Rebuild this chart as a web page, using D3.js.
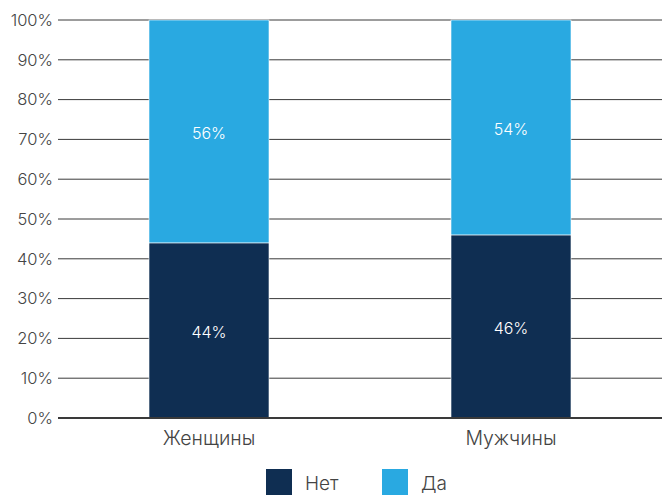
<!DOCTYPE html>
<html><head><meta charset="utf-8">
<script src="https://cdn.jsdelivr.net/npm/d3@7"></script>
<style>
  body { margin:0; background:#fff; }
  text { font-family: Inter, "Noto Sans", sans-serif; font-weight: 300; }
</style>
</head><body>
<svg id="svg" width="662" height="495"></svg>
<script>
const categories = ['Женщины', 'Мужчины'];
const net = [44, 46];
const da = [56, 54];
const ticks = [0, 10, 20, 30, 40, 50, 60, 70, 80, 90, 100];
const legendItems = [['Нет', '#0f2e52'], ['Да', '#29a9e1']];

const svg = d3.select('#svg');
const m = { top:20, right:0, bottom:77, left:58 };
const width = 662, height = 495;

const x = d3.scaleBand().domain(categories).range([m.left, width - m.right]).padding(0);
const y = d3.scaleLinear().domain([0, 100]).range([height - m.bottom, m.top]);
const bw = 120;

// gridlines
svg.append('g').selectAll('line').data(ticks).join('line')
  .attr('x1', m.left).attr('x2', width - m.right)
  .attr('y1', d => y(d)).attr('y2', d => y(d))
  .attr('stroke', '#3a3a3a').attr('stroke-width', d => d === 0 ? 2 : 1);

svg.append('g').selectAll('text').data(ticks).join('text')
  .attr('x', m.left - 5).attr('y', d => y(d)).attr('dy', '0.35em')
  .attr('text-anchor', 'end').attr('font-size', 16.5).attr('fill', '#444')
  .text(d => d + '%');

const stacks = categories.map((c, i) => [
  { c, y0: 0, y1: net[i], color: legendItems[0][1] },
  { c, y0: net[i], y1: net[i] + da[i], color: legendItems[1][1] }
]).flat();

const g = svg.append('g');
g.selectAll('rect').data(stacks).join('rect')
  .attr('x', d => x(d.c) + x.bandwidth() / 2 - bw / 2).attr('width', bw)
  .attr('y', d => y(d.y1)).attr('height', d => y(d.y0) - y(d.y1))
  .attr('fill', d => d.color).attr('stroke', '#fff').attr('stroke-width', 0.6);

g.selectAll('text').data(stacks).join('text')
  .attr('x', d => x(d.c) + x.bandwidth() / 2)
  .attr('y', d => (y(d.y0) + y(d.y1)) / 2 + 2).attr('dy', '0.35em')
  .attr('text-anchor', 'middle').attr('font-size', 16).attr('fill', '#fff')
  .text(d => (d.y1 - d.y0) + '%');

// redraw the baseline over bars
svg.append('line').attr('x1', m.left).attr('x2', width - m.right)
  .attr('y1', y(0)).attr('y2', y(0)).attr('stroke', '#3a3a3a').attr('stroke-width', 2);

svg.append('g').selectAll('text').data(categories).join('text')
  .attr('x', d => x(d) + x.bandwidth() / 2).attr('y', y(0) + 27)
  .attr('text-anchor', 'middle').attr('font-size', 19.5).attr('fill', '#444')
  .text(d => d);

const lg = svg.append('g').selectAll('g').data(legendItems).join('g')
  .attr('transform', (d, i) => `translate(${266 + i * 116},469)`);
lg.append('rect').attr('width', 26).attr('height', 26).attr('fill', d => d[1]);
lg.append('text').attr('x', 39).attr('y', 14).attr('dy', '0.35em')
  .attr('font-size', 19).attr('fill', '#444').text(d => d[0]);
</script>
</body></html>
